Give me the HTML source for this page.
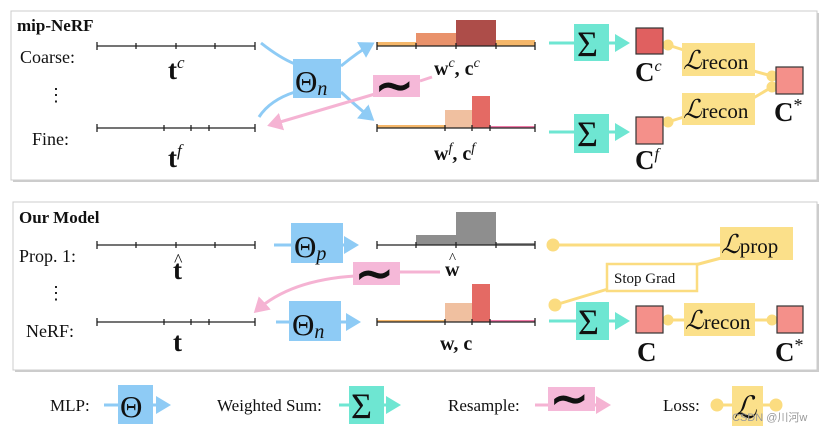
<!DOCTYPE html>
<html><head><meta charset="utf-8"><style>
html,body{margin:0;padding:0;background:#fff}
svg{display:block}
text{font-family:"Liberation Serif",serif;fill:#111}
.b{font-weight:bold}
</style></head><body>
<svg width="830" height="431" viewBox="0 0 830 431" xmlns="http://www.w3.org/2000/svg">
<defs>
<marker id="ab" markerWidth="6" markerHeight="6" refX="4" refY="3" orient="auto" markerUnits="strokeWidth"><path d="M0,0 L5,3 L0,6z" fill="#8ecbf5"/></marker>
<marker id="ap" markerWidth="6" markerHeight="6" refX="4" refY="3" orient="auto" markerUnits="strokeWidth"><path d="M0,0 L5,3 L0,6z" fill="#f5b3d3"/></marker>
<marker id="at" markerWidth="6" markerHeight="6" refX="4" refY="3" orient="auto" markerUnits="strokeWidth"><path d="M0,0 L5,3 L0,6z" fill="#6ee6d2"/></marker>
</defs>
<rect x="13" y="13" width="806" height="169" fill="#999" opacity="0.5"/>
<rect x="11" y="11" width="806" height="169" fill="#fff" stroke="#ccc"/>
<rect x="15" y="204" width="804" height="168" fill="#999" opacity="0.5"/>
<rect x="13" y="202" width="804" height="168" fill="#fff" stroke="#ccc"/>

<!-- TOP PANEL -->
<text x="17" y="31" class="b" font-size="17">mip-NeRF</text>
<text x="20" y="63" font-size="18">Coarse:</text>
<text x="47" y="101" font-size="18">⋮</text>
<text x="32" y="145" font-size="18">Fine:</text>
<g stroke="#222" stroke-width="1.3">
<line x1="97" y1="46" x2="255" y2="46"/>
<line x1="97" y1="42" x2="97" y2="50"/><line x1="136" y1="43" x2="136" y2="49"/><line x1="176" y1="43" x2="176" y2="49"/><line x1="215" y1="43" x2="215" y2="49"/><line x1="255" y1="42" x2="255" y2="50"/>
<line x1="97" y1="128" x2="255" y2="128"/>
<line x1="97" y1="124" x2="97" y2="132"/><line x1="164" y1="125" x2="164" y2="131"/><line x1="191" y1="125" x2="191" y2="131"/><line x1="209" y1="125" x2="209" y2="131"/><line x1="255" y1="124" x2="255" y2="132"/>
</g>
<text x="168" y="79" class="b" font-size="27">t<tspan font-size="17" dy="-11" font-style="italic" font-weight="normal">c</tspan></text>
<text x="168" y="167" class="b" font-size="27">t<tspan font-size="17" dy="-11" font-style="italic" font-weight="normal">f</tspan></text>
<g fill="none" stroke="#8ecbf5" stroke-width="3">
<path d="M261,43 Q280,58 295,64"/>
<path d="M341,66 Q358,52 372,44" marker-end="url(#ab)"/>
<path d="M259,117 Q270,100 295,92"/>
<path d="M341,92 Q355,105 372,119" marker-end="url(#ab)"/>
</g>
<rect x="293" y="59" width="48" height="39" fill="#8ecbf5"/>
<text x="295" y="92" font-size="31">Θ<tspan font-size="20" font-style="italic" dy="3">n</tspan></text>
<line x1="432" y1="77" x2="420" y2="81" stroke="#f5b3d3" stroke-width="3"/>
<line x1="375" y1="94" x2="270" y2="125" stroke="#f5b3d3" stroke-width="3" marker-end="url(#ap)"/>
<rect x="373" y="75" width="47" height="22" fill="#f5b8d8"/>
<text x="375" y="101" font-size="46" font-weight="bold">∼</text>
<rect x="377" y="42" width="39" height="4" fill="#f5b76a"/>
<rect x="416" y="33" width="40" height="13" fill="#e9926b"/>
<rect x="456" y="20" width="40" height="26" fill="#ad4d49"/>
<rect x="496" y="40" width="39" height="6" fill="#f5b76a"/>
<rect x="377" y="125" width="68" height="3" fill="#f5b76a"/>
<rect x="445" y="110" width="27" height="18" fill="#f0c0a0"/>
<rect x="472" y="96" width="18" height="32" fill="#e46a64"/>
<rect x="490" y="126" width="45" height="2" fill="#f07aa8"/>
<g stroke="#222" stroke-width="1.3">
<line x1="377" y1="46" x2="535" y2="46"/>
<line x1="377" y1="42" x2="377" y2="50"/><line x1="416" y1="43" x2="416" y2="49"/><line x1="456" y1="43" x2="456" y2="49"/><line x1="496" y1="43" x2="496" y2="49"/><line x1="535" y1="42" x2="535" y2="50"/>
<line x1="377" y1="128" x2="535" y2="128"/>
<line x1="377" y1="124" x2="377" y2="132"/><line x1="445" y1="125" x2="445" y2="131"/><line x1="472" y1="125" x2="472" y2="131"/><line x1="490" y1="125" x2="490" y2="131"/><line x1="535" y1="124" x2="535" y2="132"/>
</g>
<text x="434" y="75" class="b" font-size="20">w<tspan font-size="14" dy="-8" font-style="italic" font-weight="normal">c</tspan><tspan dy="8">, c</tspan><tspan font-size="14" dy="-8" font-style="italic" font-weight="normal">c</tspan></text>
<text x="434" y="160" class="b" font-size="20">w<tspan font-size="14" dy="-8" font-style="italic" font-weight="normal">f</tspan><tspan dy="8">, c</tspan><tspan font-size="14" dy="-8" font-style="italic" font-weight="normal">f</tspan></text>
<g stroke="#6ee6d2" stroke-width="3">
<line x1="549" y1="43" x2="574" y2="43"/><line x1="609" y1="43" x2="627" y2="43" marker-end="url(#at)"/>
<line x1="549" y1="132" x2="574" y2="132"/><line x1="609" y1="132" x2="627" y2="132" marker-end="url(#at)"/>
</g>
<rect x="574" y="24" width="35" height="37" fill="#6ee6d2"/>
<rect x="574" y="114" width="35" height="39" fill="#6ee6d2"/>
<text x="577" y="56" font-size="36">Σ</text>
<text x="577" y="146" font-size="36">Σ</text>
<g stroke="#fbdc80" stroke-width="3" fill="#fbdc80">
<line x1="668" y1="45" x2="690" y2="52"/><circle cx="668" cy="45" r="4"/>
<line x1="750" y1="70" x2="772" y2="76"/><circle cx="772" cy="76" r="4"/>
<line x1="750" y1="100" x2="772" y2="87"/><circle cx="772" cy="87" r="4"/>
<line x1="668" y1="122" x2="690" y2="115"/><circle cx="668" cy="122" r="4"/>
</g>
<rect x="682" y="43" width="73" height="33" fill="#fbe08a"/>
<rect x="682" y="93" width="73" height="32" fill="#fbe08a"/>
<text x="683" y="69" font-size="26" font-style="italic">ℒ<tspan font-style="normal" font-size="21">recon</tspan></text>
<text x="683" y="118" font-size="26" font-style="italic">ℒ<tspan font-style="normal" font-size="21">recon</tspan></text>
<rect x="636" y="28" width="27" height="26" fill="#e06060" stroke="#333" stroke-width="1.2"/>
<rect x="636" y="117" width="27" height="27" fill="#f4908a" stroke="#333" stroke-width="1.2"/>
<rect x="776" y="67" width="27" height="27" fill="#f4908a" stroke="#333" stroke-width="1.2"/>
<text x="635" y="81" class="b" font-size="27">C<tspan font-size="16" dy="-10" font-style="italic" font-weight="normal">c</tspan></text>
<text x="635" y="169" class="b" font-size="27">C<tspan font-size="16" dy="-10" font-style="italic" font-weight="normal">f</tspan></text>
<text x="774" y="121" class="b" font-size="27">C<tspan font-size="18" dy="-10" font-weight="normal">*</tspan></text>

<!-- BOTTOM PANEL -->
<text x="19" y="223" class="b" font-size="17">Our Model</text>
<text x="19" y="262" font-size="18">Prop. 1:</text>
<text x="47" y="299" font-size="18">⋮</text>
<text x="26" y="337" font-size="18">NeRF:</text>
<g stroke="#222" stroke-width="1.3">
<line x1="97" y1="245" x2="255" y2="245"/>
<line x1="97" y1="241" x2="97" y2="249"/><line x1="136" y1="242" x2="136" y2="248"/><line x1="176" y1="242" x2="176" y2="248"/><line x1="215" y1="242" x2="215" y2="248"/><line x1="255" y1="241" x2="255" y2="249"/>
<line x1="97" y1="322" x2="255" y2="322"/>
<line x1="97" y1="318" x2="97" y2="326"/><line x1="164" y1="319" x2="164" y2="325"/><line x1="191" y1="319" x2="191" y2="325"/><line x1="209" y1="319" x2="209" y2="325"/><line x1="255" y1="318" x2="255" y2="326"/>
</g>
<text x="173" y="279" class="b" font-size="27">t</text><text x="174" y="266" font-size="18">^</text>
<text x="173" y="351" class="b" font-size="27">t</text>
<g stroke="#8ecbf5" stroke-width="3">
<line x1="274" y1="245" x2="291" y2="245"/><line x1="343" y1="245" x2="356" y2="245" marker-end="url(#ab)"/>
<line x1="276" y1="322" x2="289" y2="322"/><line x1="341" y1="322" x2="358" y2="322" marker-end="url(#ab)"/>
</g>
<rect x="291" y="223" width="52" height="40" fill="#8ecbf5"/>
<rect x="289" y="301" width="52" height="40" fill="#8ecbf5"/>
<text x="294" y="257" font-size="31">Θ<tspan font-size="20" font-style="italic" dy="3">p</tspan></text>
<text x="292" y="335" font-size="31">Θ<tspan font-size="20" font-style="italic" dy="3">n</tspan></text>
<line x1="400" y1="272" x2="440" y2="272" stroke="#f5b3d3" stroke-width="3"/>
<path d="M355,276 Q290,280 256,311" fill="none" stroke="#f5b3d3" stroke-width="3" marker-end="url(#ap)"/>
<rect x="353" y="262" width="47" height="23" fill="#f5b8d8"/>
<text x="355" y="289" font-size="46" font-weight="bold">∼</text>
<rect x="416" y="235" width="40" height="10" fill="#8e8e8e"/>
<rect x="456" y="212" width="40" height="33" fill="#8e8e8e"/>
<rect x="496" y="243" width="39" height="2" fill="#8e8e8e"/>
<rect x="377" y="320" width="68" height="2" fill="#f5b76a"/>
<rect x="445" y="303" width="27" height="19" fill="#f0c0a0"/>
<rect x="472" y="284" width="18" height="38" fill="#e46a64"/>
<rect x="490" y="320" width="45" height="2" fill="#f07aa8"/>
<g stroke="#222" stroke-width="1.3">
<line x1="377" y1="245" x2="535" y2="245"/>
<line x1="377" y1="241" x2="377" y2="249"/><line x1="416" y1="242" x2="416" y2="248"/><line x1="456" y1="242" x2="456" y2="248"/><line x1="496" y1="242" x2="496" y2="248"/><line x1="535" y1="241" x2="535" y2="249"/>
<line x1="377" y1="322" x2="535" y2="322"/>
<line x1="377" y1="318" x2="377" y2="326"/><line x1="445" y1="319" x2="445" y2="325"/><line x1="472" y1="319" x2="472" y2="325"/><line x1="490" y1="319" x2="490" y2="325"/><line x1="535" y1="318" x2="535" y2="326"/>
</g>
<text x="445" y="276" class="b" font-size="20">w</text><text x="449" y="263" font-size="15">^</text>
<text x="440" y="350" class="b" font-size="20">w, c</text>
<g stroke="#fbdc80" stroke-width="3" fill="#fbdc80">
<line x1="553" y1="245" x2="722" y2="245"/><circle cx="553" cy="245" r="5"/>
<line x1="555" y1="305" x2="608" y2="289"/><circle cx="555" cy="305" r="5"/>
<line x1="695" y1="265" x2="725" y2="257"/>
<line x1="668" y1="320" x2="772" y2="320"/><circle cx="668" cy="320" r="4"/><circle cx="772" cy="320" r="4"/>
</g>
<rect x="720" y="227" width="73" height="33" fill="#fbe08a"/>
<text x="721" y="253" font-size="26" font-style="italic">ℒ<tspan font-style="normal" font-size="21">prop</tspan></text>
<rect x="607" y="264" width="90" height="27" fill="#fff" stroke="#fbdc80" stroke-width="2.5"/>
<text x="614" y="283" font-size="15">Stop Grad</text>
<g stroke="#6ee6d2" stroke-width="3">
<line x1="549" y1="321" x2="576" y2="321"/><line x1="609" y1="321" x2="627" y2="321" marker-end="url(#at)"/>
</g>
<rect x="576" y="302" width="33" height="38" fill="#6ee6d2"/>
<text x="578" y="334" font-size="36">Σ</text>
<rect x="684" y="303" width="71" height="33" fill="#fbe08a"/>
<text x="685" y="329" font-size="26" font-style="italic">ℒ<tspan font-style="normal" font-size="21">recon</tspan></text>
<rect x="636" y="306" width="27" height="27" fill="#f4908a" stroke="#333" stroke-width="1.2"/>
<rect x="777" y="306" width="26" height="27" fill="#f4908a" stroke="#333" stroke-width="1.2"/>
<text x="637" y="361" class="b" font-size="27">C</text>
<text x="775" y="361" class="b" font-size="27">C<tspan font-size="18" dy="-10" font-weight="normal">*</tspan></text>

<!-- LEGEND -->
<text x="50" y="411" font-size="17">MLP:</text>
<g stroke="#8ecbf5" stroke-width="3"><line x1="104" y1="405" x2="118" y2="405"/><line x1="153" y1="405" x2="168" y2="405" marker-end="url(#ab)"/></g>
<rect x="118" y="385" width="35" height="39" fill="#8ecbf5"/>
<text x="120" y="417" font-size="31">Θ</text>
<text x="217" y="411" font-size="17">Weighted Sum:</text>
<g stroke="#6ee6d2" stroke-width="3"><line x1="339" y1="405" x2="349" y2="405"/><line x1="384" y1="405" x2="398" y2="405" marker-end="url(#at)"/></g>
<rect x="349" y="386" width="35" height="38" fill="#6ee6d2"/>
<text x="351" y="418" font-size="36">Σ</text>
<text x="448" y="411" font-size="17">Resample:</text>
<g stroke="#f5b3d3" stroke-width="3"><line x1="535" y1="405" x2="548" y2="405"/><line x1="595" y1="405" x2="608" y2="405" marker-end="url(#ap)"/></g>
<rect x="548" y="387" width="47" height="24" fill="#f5b8d8"/>
<text x="550" y="414" font-size="46" font-weight="bold">∼</text>
<text x="663" y="411" font-size="17">Loss:</text>
<g stroke="#fbdc80" stroke-width="3" fill="#fbdc80"><line x1="717" y1="405" x2="776" y2="405"/><circle cx="717" cy="405" r="5"/><circle cx="776" cy="405" r="5"/></g>
<rect x="732" y="386" width="31" height="40" fill="#fbe08a"/>
<text x="734" y="418" font-size="31" font-style="italic">ℒ</text>
<text x="732" y="421" font-size="11" style="font-family:'Liberation Sans','Noto Sans CJK SC',sans-serif;fill:#999">CSDN @川河w</text>
</svg>
</body></html>
